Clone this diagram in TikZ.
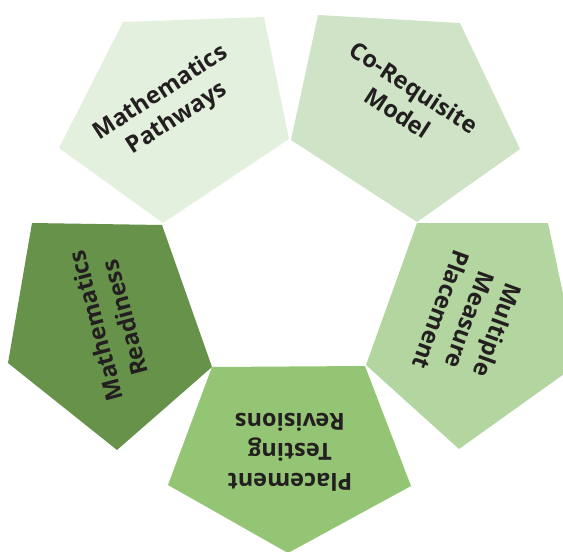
\documentclass[tikz,border=0pt]{standalone}
\usepackage{fontspec}
\setmainfont{Open Sans}
\definecolor{pA}{HTML}{E4F0DE}
\definecolor{pB}{HTML}{CFE4C6}
\definecolor{pC}{HTML}{B3D6A0}
\definecolor{pD}{HTML}{94C574}
\definecolor{pE}{HTML}{67924A}
\definecolor{txt}{HTML}{231F20}
\begin{document}
\begin{tikzpicture}[x=1pt,y=-1pt,
  label/.style={text=txt,font=\fontsize{23.5}{30}\selectfont\bfseries,align=center,inner sep=0pt}]
\useasboundingbox (0,0) rectangle (563,552);
\begin{scope}
\clip (0,0) rectangle (563,552);
\fill[pA] (123,22) -- (264,17) -- (289,139) -- (163,223) -- (59,148) -- cycle;
\fill[pB] (318,15) -- (460,23) -- (520,149) -- (417,222) -- (291,140) -- cycle;
\fill[pE] (32,223) -- (162,225) -- (212,367) -- (117,450) -- (8,363) -- cycle;
\fill[pC] (417,223) -- (548,223) -- (578,364) -- (459,449) -- (366,365) -- cycle;
\fill[pD] (212,367) -- (365,366) -- (411,486) -- (288,553) -- (168,485) -- cycle;
\end{scope}
\node[label,rotate=33] (pathways) at (169,106) {Mathematics\\Pathways};
\node[label,rotate=-33] (coreq) at (406,100) {Co-Requisite\\Model};
\node[label,rotate=105] (readiness) at (110,322) {Mathematics\\Readiness};
\node[label,rotate=-110] (multiple) at (470,320) {Multiple\\Measure\\Placement};
\node[label,rotate=180] (placement) at (290,452) {Placement\\Testing\\Revisions};
\end{tikzpicture}
\end{document}
